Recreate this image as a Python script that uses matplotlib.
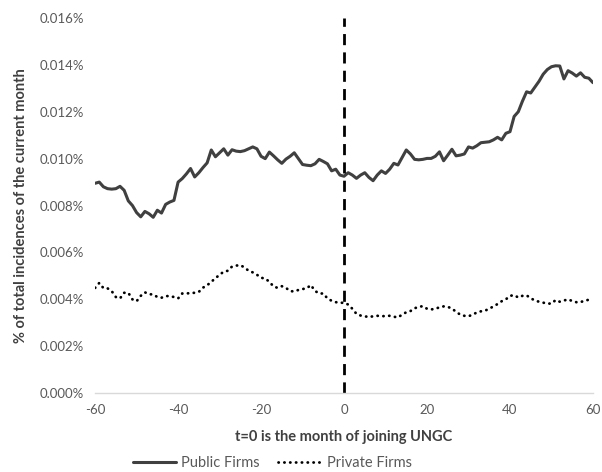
import numpy as np
import matplotlib.pyplot as plt

months = list(range(-60, 61))

# values in thousandths of a percent (8.95 -> 0.00895%)
public_firms = [
    8.95, 9.00, 8.80, 8.72, 8.70, 8.72, 8.82, 8.65, 8.20, 8.00,
    7.70, 7.52, 7.75, 7.65, 7.50, 7.80, 7.68, 8.05, 8.15, 8.22,
    9.00, 9.15, 9.35, 9.58, 9.22, 9.40, 9.62, 9.82, 10.37, 10.08,
    10.25, 10.42, 10.15, 10.38, 10.32, 10.30, 10.34, 10.42, 10.50, 10.42,
    10.10, 10.00, 10.28, 10.12, 9.95, 9.80, 9.98, 10.10, 10.25, 10.00,
    9.75, 9.72, 9.70, 9.78, 9.97, 9.88, 9.78, 9.48, 9.55, 9.30,
    9.25,
    9.40, 9.30, 9.16, 9.30, 9.40, 9.20, 9.06, 9.30, 9.48, 9.37,
    9.55, 9.80, 9.73, 10.05, 10.37, 10.20, 9.97, 9.95, 9.97, 10.01,
    10.01, 10.10, 10.29, 9.91, 10.15, 10.40, 10.12, 10.15, 10.20, 10.50,
    10.45, 10.55, 10.68, 10.70, 10.72, 10.80, 10.91, 10.80, 11.08, 11.15,
    11.80, 12.00, 12.45, 12.85, 12.80, 13.05, 13.30, 13.60, 13.80, 13.92,
    13.96, 13.95, 13.40, 13.75, 13.65, 13.52, 13.66, 13.47, 13.43, 13.24,
]
private_firms = [
    4.49, 4.70, 4.48, 4.47, 4.35, 4.10, 4.04, 4.28, 4.28, 4.00,
    3.92, 4.15, 4.30, 4.22, 4.21, 4.10, 4.07, 4.14, 4.14, 4.10,
    4.04, 4.25, 4.25, 4.27, 4.28, 4.32, 4.50, 4.60, 4.75, 4.90,
    5.05, 5.18, 5.22, 5.40, 5.44, 5.46, 5.36, 5.22, 5.15, 5.05,
    4.92, 4.89, 4.75, 4.55, 4.49, 4.56, 4.49, 4.35, 4.34, 4.40,
    4.44, 4.47, 4.61, 4.36, 4.25, 4.25, 4.04, 3.94, 3.88, 3.86,
    3.85,
    3.78, 3.60, 3.38, 3.31, 3.28, 3.24, 3.28, 3.30, 3.28, 3.29,
    3.30, 3.26, 3.23, 3.35, 3.45, 3.50, 3.62, 3.68, 3.71, 3.60,
    3.57, 3.60, 3.66, 3.70, 3.68, 3.61, 3.47, 3.35, 3.30, 3.28,
    3.35, 3.44, 3.49, 3.52, 3.60, 3.70, 3.80, 3.92, 4.00, 4.15,
    4.18, 4.08, 4.15, 4.17, 4.05, 3.95, 3.90, 3.86, 3.82, 3.82,
    3.97, 3.90, 3.95, 4.00, 3.93, 3.88, 3.88, 3.95, 3.98, 4.01,
]
yticks = [0.000, 0.002, 0.004, 0.006, 0.008, 0.010, 0.012, 0.014, 0.016]
xticks = [-60, -40, -20, 0, 20, 40, 60]

plt.rcParams['font.family'] = ['Lato', 'DejaVu Sans']
plt.rcParams['axes.unicode_minus'] = False

fig = plt.figure(figsize=(6.02, 4.72), dpi=100)
ax = fig.add_axes([0.158, 0.167, 0.827, 0.795])

pub = np.array(public_firms) / 1000
priv = np.array(private_firms) / 1000

ax.plot(months, pub, color='#404040', lw=2.2, label='Public Firms', solid_capstyle='round')
ax.plot(months, priv, color='black', lw=2.0, linestyle=(0, (0.1, 2.0)),
        dash_capstyle='round', label='Private Firms')
ax.plot([0, 0], [0, 0.016], color='black', lw=2.0, linestyle=(0, (4, 2.6)))

ax.set_xlim(-60, 60)
ax.set_ylim(0, 0.016)
ax.set_xticks(xticks)
ax.set_yticks(yticks)
ax.set_yticklabels([f'{v:.3f}%' for v in yticks])
ax.tick_params(length=0, labelsize=9.5, labelcolor='#595959', pad=8)

for s in ['top', 'right', 'left']:
    ax.spines[s].set_visible(False)
ax.spines['bottom'].set_color('#d9d9d9')
ax.spines['bottom'].set_linewidth(1)

ax.set_xlabel('t=0 is the month of joining UNGC', fontsize=10.5, fontweight='bold',
              color='#404040', labelpad=10)
ax.set_ylabel('% of total incidences of the current month', fontsize=10.5,
              fontweight='bold', color='#404040', labelpad=8)

fig.legend(loc='center', bbox_to_anchor=(0.452, 0.019), ncol=2, frameon=False,
           fontsize=10.5, labelcolor='#595959', handlelength=3.0, handletextpad=0.3,
           columnspacing=1.3)

plt.savefig('out.png')
